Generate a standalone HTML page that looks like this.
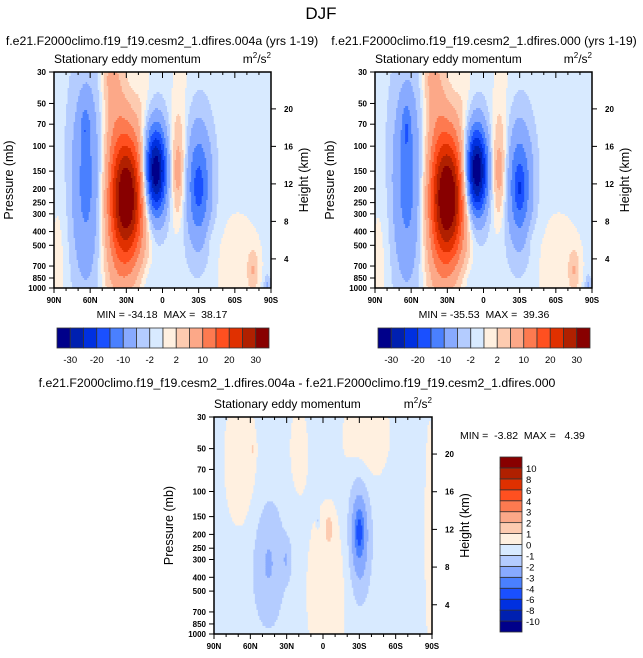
<!DOCTYPE html>
<html><head><meta charset="utf-8">
<style>
body{margin:0;background:#fff;}
svg{display:block;font-family:"Liberation Sans",sans-serif;}
text{white-space:pre;}
</style></head>
<body>
<svg id="fig" width="643" height="658" viewBox="0 0 643 658" xmlns="http://www.w3.org/2000/svg" xml:space="preserve">
<text x="321" y="19" font-size="17" text-anchor="middle">DJF</text>
<text x="162" y="45" font-size="12.3" text-anchor="middle">f.e21.F2000climo.f19_f19.cesm2_1.dfires.004a (yrs 1-19)</text>
<text x="484" y="45" font-size="12.3" text-anchor="middle">f.e21.F2000climo.f19_f19.cesm2_1.dfires.000 (yrs 1-19)</text>
<text x="297" y="387" font-size="12.3" text-anchor="middle">f.e21.F2000climo.f19_f19.cesm2_1.dfires.004a - f.e21.F2000climo.f19_f19.cesm2_1.dfires.000</text>
<g id="panels"></g>
</svg>
<script>
// ---- data ----
const colors=['#00008a','#0020b0','#0030e0','#1a50ff','#4a80ff','#88aaff','#b4ccff','#d8eaff','#fff0e0','#fdcbb0','#fca888','#fd7a50','#ff5020','#e03000','#b02000','#880000'];
const levelsAbs=[-30,-25,-20,-15,-10,-5,-2,0,2,5,10,15,20,25,30];
const levelLabelsAbs=['-30','-20','-10','-2','2','10','20','30'];
const levelsDiff=[-10,-8,-6,-4,-3,-2,-1,0,1,2,3,4,6,8,10];
const pressureTicks=[30,50,70,100,150,200,250,300,400,500,700,850,1000];
const heightTicks=[4,8,12,16,20];
const latTicks=[90,60,30,0,-30,-60,-90];
const latTickLabels=['90N','60N','30N','0','30S','60S','90S'];
// blobs: lat, pressure(mb), amplitude, lat sigma, log10p sigma
const p1Lat=[63,64,30,40,38,6,-13,-13,-30,-30,-75,-87,85,-62,-15,10,-40,44,15];
const p1P=[180,75,230,45,800,150,150,150,190,200,750,950,600,700,40,900,450,32,40];
const p1Amp=[-11,-6,37,5,3,-35,8,4,-15,-4,5,-5,1.6,1.6,1.5,-1.6,1.3,3,1.3];
const p1Sx=[9,2.5,10.5,7,10,6.5,4.5,1.5,7.5,2,3,2,6,18,6,10,4,5,5];
const p1Sy=[0.5,0.1,0.33,0.3,0.3,0.22,0.24,0.06,0.3,0.08,0.1,0.05,0.4,0.35,0.35,0.1,0.08,0.12,0.2];
const p1Base=-0.9;
const p2Lat=[63,64,30,40,38,6,-13,-13,-30,-30,-75,-87,85,-62,-15,10,-40,44,15];
const p2P=[180,75,230,45,800,150,150,150,190,200,750,950,600,700,40,900,450,32,40];
const p2Amp=[-11.5,-6.5,38,5,3,-36,8,4,-15,-5,5,-5,1.6,1.6,1.5,-1.6,1.3,3,1.3];
const p2Sx=[9,2.5,10.5,7,10,6.5,4.5,1.5,7.5,2.5,3,2,6,18,6,10,4,5,5];
const p2Sy=[0.5,0.12,0.33,0.3,0.3,0.22,0.24,0.06,0.3,0.1,0.1,0.05,0.4,0.35,0.35,0.1,0.08,0.12,0.2];
const p2Base=-0.9;
const p3Lat=[-30,-30,45,30,-3,-5,68,-36,20,58,-88,4];
const p3P=[200,190,320,300,500,180,60,40,50,50,200,160];
const p3Amp=[-3,-1.5,-1.6,-1.2,1.3,1.4,1.3,1.3,1.0,0.9,1.2,-1.2];
const p3Sx=[6,2,9,3,12,2.5,10,14,6,1.5,3,1];
const p3Sy=[0.28,0.08,0.3,0.1,0.45,0.07,0.35,0.25,0.25,0.05,0.6,0.03];
const p3Base=-0.5;

// ---- drawing ----
const NS='http://www.w3.org/2000/svg';
const root=document.getElementById('panels');
function mk(tag,attrs,parent){const e=document.createElementNS(NS,tag);for(const k in attrs)e.setAttribute(k,attrs[k]);(parent||root).appendChild(e);return e;}
function txt(x,y,s,size,anchor,parent,extra){const t=mk('text',Object.assign({x:x,y:y,'font-size':size,'text-anchor':anchor||'start'},extra||{}),parent);t.textContent=s;return t;}
function quant(v,lv){let i=0;while(i<lv.length&&v>=lv[i])i++;return i;}

function panel(id,x0,y0,w,h,lat,pr,amp,sx,sy,base,lv){
  const g=mk('g',{});
  
  
  const xS=l=>x0+(90-l)/180*w;
  const yS=p=>y0+Math.log10(p/30)/Math.log10(1000/30)*h;
  const f=(la,lp)=>{let v=base;for(let i=0;i<lat.length;i++){const dx=(la-lat[i])/sx[i],dy=(lp-Math.log10(pr[i]))/sy[i];v+=amp[i]*Math.exp(-0.5*(dx*dx+dy*dy));}return v;};
  const NX=144,NY=108;
  const cw=w/NX,ch=h/NY;
  const field=mk('g',{},g);
  
  
  for(let j=0;j<NY;j++){
    const lp=Math.log10(30)+(j+0.5)/NY*Math.log10(1000/30);
    let start=0,cur=quant(f(90-0.5/NX*180,lp),lv);
    for(let i=1;i<=NX;i++){
      const c=i<NX?quant(f(90-(i+0.5)/NX*180,lp),lv):-1;
      if(c!==cur){
        const r=mk('rect',{x:(x0+start*cw).toFixed(2),y:(y0+j*ch).toFixed(2),width:((i-start)*cw+0.5).toFixed(2),height:(ch+0.5).toFixed(2),fill:colors[cur]},field);
        
        
        start=i;cur=c;
      }
    }
  }
  const fr=mk('rect',{x:x0,y:y0,width:w,height:h,fill:'none',stroke:'#000','stroke-width':1.5},g);
  
  const ax=mk('g',{stroke:'#000','stroke-width':1},g);
  
  for(let l=90;l>=-90;l-=10){const X=xS(l);const maj=l%30===0;
    mk('line',{x1:X,y1:y0,x2:X,y2:y0+(maj?6:3)},ax);
    mk('line',{x1:X,y1:y0+h,x2:X,y2:y0+h+(maj?5:3)},ax);}
  const lab=mk('g',{'font-size':'8','font-weight':'bold'},g);
  
  latTicks.forEach((l,i)=>txt(xS(l),y0+h+15,latTickLabels[i],8,'middle',lab));
  pressureTicks.forEach(p=>{const Y=yS(p);mk('line',{x1:x0-5,y1:Y,x2:x0,y2:Y},ax);txt(x0-8,Y+3,String(p),8,'end',lab);});
  heightTicks.forEach(z=>{const p=1146*Math.exp(-z/6.57);const Y=yS(p);mk('line',{x1:x0+w,y1:Y,x2:x0+w+5,y2:Y},ax);txt(x0+w+13,Y+3,String(z),8,'start',lab);});
  const t1=txt(x0,y0-9,'Stationary eddy momentum',12,'start',g);
  
  const u=txt(x0+w,y0-9,'m',12,'end',g);
  u.innerHTML='m<tspan font-size="8" dy="-5">2</tspan><tspan dy="5">/s</tspan><tspan font-size="8" dy="-5">2</tspan>';
  
  const ya=txt(0,0,'Pressure (mb)',12.5,'middle',g,{transform:`translate(${x0-41},${y0+h/2}) rotate(-90)`});
  
  const yb=txt(0,0,'Height (km)',12.5,'middle',g,{transform:`translate(${x0+w+37},${y0+h/2}) rotate(-90)`});
  
}

function hbar(x0,y0,w,h){
  const g=mk('g',{});
  
  const bw=w/colors.length;
  colors.forEach((c,i)=>{const r=mk('rect',{x:x0+i*bw,y:y0,width:bw,height:h,fill:c,stroke:'#333','stroke-width':0.8},g);
    });
  levelLabelsAbs.forEach((s,i)=>txt(x0+(2*i+1)*bw,y0+h+15,s,9.5,'middle',g));
}
function vbar(x0,y0,w,h){
  const g=mk('g',{});
  
  const bh=h/colors.length;
  colors.forEach((c,i)=>{const r=mk('rect',{x:x0,y:y0+h-(i+1)*bh,width:w,height:bh,fill:c,stroke:'#333','stroke-width':0.8},g);
    });
  levelsDiff.forEach((v,i)=>txt(x0+w+4,y0+h-(i+1)*bh+4,String(v),9.5,'start',g));
}

panel('panel-004a',54,72,217,216,p1Lat,p1P,p1Amp,p1Sx,p1Sy,p1Base,levelsAbs);
panel('panel-000',375,72,217,216,p2Lat,p2P,p2Amp,p2Sx,p2Sy,p2Base,levelsAbs);
panel('panel-diff',214,417,218,217,p3Lat,p3P,p3Amp,p3Sx,p3Sy,p3Base,levelsDiff);
hbar(57,328,212,20);
hbar(378,328,212,20);
vbar(500,457,22,175);
const m1=txt(162,318,'MIN = -34.18  MAX =  38.17',10.5,'middle');

const m2=txt(484,318,'MIN = -35.53  MAX =  39.36',10.5,'middle');

const m3=txt(460,439,'MIN =  -3.82  MAX =   4.39',10.5,'start');

</script>
</body></html>
